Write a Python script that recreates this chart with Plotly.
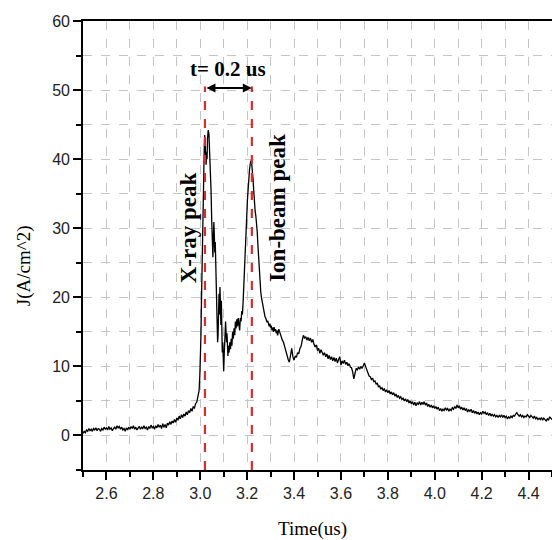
import plotly.graph_objects as go

# ---- data ----
time_us = [
    2.500, 2.505, 2.510, 2.515, 2.520, 2.525, 2.530, 2.535, 2.540, 2.545, 2.550, 2.555, 2.560, 2.565, 2.570, 2.575,
    2.580, 2.585, 2.590, 2.595, 2.600, 2.605, 2.610, 2.615, 2.620, 2.625, 2.630, 2.635, 2.640, 2.645, 2.650, 2.655,
    2.660, 2.665, 2.670, 2.675, 2.680, 2.685, 2.690, 2.695, 2.700, 2.705, 2.710, 2.715, 2.720, 2.725, 2.730, 2.735,
    2.740, 2.745, 2.750, 2.755, 2.760, 2.765, 2.770, 2.775, 2.780, 2.785, 2.790, 2.795, 2.800, 2.805, 2.810, 2.815,
    2.820, 2.825, 2.830, 2.835, 2.840, 2.845, 2.850, 2.855, 2.860, 2.865, 2.870, 2.875, 2.880, 2.885, 2.890, 2.895,
    2.900, 2.905, 2.910, 2.915, 2.920, 2.925, 2.930, 2.935, 2.940, 2.945, 2.950, 2.955, 2.960, 2.965, 2.970, 2.975,
    2.980, 2.985, 2.990, 2.995, 2.998, 3.001, 3.003, 3.005, 3.007, 3.009, 3.011, 3.013, 3.015, 3.017, 3.019, 3.021,
    3.023, 3.025, 3.027, 3.029, 3.031, 3.034, 3.037, 3.040, 3.043, 3.046, 3.049, 3.052, 3.054, 3.056, 3.058, 3.060,
    3.062, 3.064, 3.066, 3.068, 3.070, 3.072, 3.074, 3.076, 3.078, 3.080, 3.082, 3.084, 3.086, 3.088, 3.090, 3.092,
    3.094, 3.096, 3.098, 3.100, 3.102, 3.104, 3.106, 3.108, 3.110, 3.112, 3.114, 3.116, 3.118, 3.120, 3.123, 3.126,
    3.129, 3.132, 3.135, 3.138, 3.141, 3.144, 3.147, 3.150, 3.153, 3.156, 3.159, 3.162, 3.165, 3.168, 3.171, 3.174,
    3.177, 3.180, 3.183, 3.186, 3.189, 3.192, 3.195, 3.198, 3.201, 3.204, 3.207, 3.210, 3.213, 3.216, 3.219, 3.222,
    3.225, 3.228, 3.231, 3.234, 3.237, 3.240, 3.243, 3.246, 3.249, 3.252, 3.255, 3.258, 3.261, 3.264, 3.267, 3.270,
    3.273, 3.276, 3.279, 3.282, 3.285, 3.288, 3.291, 3.294, 3.297, 3.300, 3.303, 3.306, 3.309, 3.312, 3.315, 3.318,
    3.321, 3.324, 3.327, 3.330, 3.335, 3.340, 3.345, 3.350, 3.355, 3.360, 3.365, 3.370, 3.375, 3.380, 3.385, 3.390,
    3.395, 3.400, 3.405, 3.410, 3.415, 3.420, 3.425, 3.430, 3.435, 3.440, 3.445, 3.450, 3.455, 3.460, 3.465, 3.470,
    3.475, 3.480, 3.485, 3.490, 3.495, 3.500, 3.505, 3.510, 3.515, 3.520, 3.525, 3.530, 3.535, 3.540, 3.545, 3.550,
    3.555, 3.560, 3.565, 3.570, 3.575, 3.580, 3.585, 3.590, 3.595, 3.600, 3.605, 3.610, 3.615, 3.620, 3.625, 3.630,
    3.635, 3.640, 3.645, 3.650, 3.655, 3.660, 3.665, 3.670, 3.675, 3.680, 3.685, 3.690, 3.695, 3.700, 3.705, 3.710,
    3.715, 3.720, 3.725, 3.730, 3.735, 3.740, 3.745, 3.750, 3.755, 3.760, 3.765, 3.770, 3.775, 3.780, 3.785, 3.790,
    3.795, 3.800, 3.805, 3.810, 3.815, 3.820, 3.825, 3.830, 3.835, 3.840, 3.845, 3.850, 3.855, 3.860, 3.865, 3.870,
    3.875, 3.880, 3.885, 3.890, 3.895, 3.900, 3.905, 3.910, 3.915, 3.920, 3.925, 3.930, 3.935, 3.940, 3.945, 3.950,
    3.955, 3.960, 3.965, 3.970, 3.975, 3.980, 3.985, 3.990, 3.995, 4.000, 4.005, 4.010, 4.015, 4.020, 4.025, 4.030,
    4.035, 4.040, 4.045, 4.050, 4.055, 4.060, 4.065, 4.070, 4.075, 4.080, 4.085, 4.090, 4.095, 4.100, 4.105, 4.110,
    4.115, 4.120, 4.125, 4.130, 4.135, 4.140, 4.145, 4.150, 4.155, 4.160, 4.165, 4.170, 4.175, 4.180, 4.185, 4.190,
    4.195, 4.200, 4.205, 4.210, 4.215, 4.220, 4.225, 4.230, 4.235, 4.240, 4.245, 4.250, 4.255, 4.260, 4.265, 4.270,
    4.275, 4.280, 4.285, 4.290, 4.295, 4.300, 4.305, 4.310, 4.315, 4.320, 4.325, 4.330, 4.335, 4.340, 4.345, 4.350,
    4.355, 4.360, 4.365, 4.370, 4.375, 4.380, 4.385, 4.390, 4.395, 4.400, 4.405, 4.410, 4.415, 4.420, 4.425, 4.430,
    4.435, 4.440, 4.445, 4.450, 4.455, 4.460, 4.465, 4.470, 4.475, 4.480, 4.485, 4.490, 4.495, 4.500,
]
current_density = [
    0.3, 0.6, 0.4, 0.8, 0.6, 1.0, 0.7, 0.9, 0.6, 1.0, 0.8, 1.1, 0.7, 1.0, 0.9, 0.6,
    1.0, 0.8, 1.2, 0.9, 1.1, 0.8, 1.3, 0.9, 1.1, 0.7, 1.0, 1.2, 0.9, 1.4, 1.1, 1.3,
    0.9, 1.2, 0.8, 1.0, 0.6, 1.1, 0.8, 1.2, 0.9, 1.3, 1.0, 1.4, 0.9, 1.2, 0.8, 1.1,
    1.3, 0.9, 1.2, 1.0, 1.4, 1.0, 1.2, 0.8, 1.3, 1.0, 1.5, 1.1, 1.3, 0.9, 1.4, 1.1,
    1.6, 1.2, 1.5, 1.0, 1.7, 1.2, 1.6, 1.1, 1.8, 1.5, 2.0, 1.6, 2.1, 1.8, 2.3, 1.9,
    2.5, 2.2, 2.8, 2.4, 3.0, 2.6, 3.1, 2.8, 3.4, 3.0, 3.6, 3.3, 3.9, 3.5, 4.2, 3.9,
    4.6, 4.8, 5.5, 6.5, 8.5, 11.0, 14.5, 19.0, 24.0, 29.0, 34.0, 37.5, 38.8, 41.5, 43.5, 42.0,
    40.5, 39.2, 41.0, 40.0, 43.0, 44.2, 43.6, 41.5, 39.0, 35.5, 31.0, 27.0, 25.8, 28.5, 30.9, 29.0,
    26.5, 28.0, 24.0, 21.0, 18.0, 15.5, 13.5, 14.5, 17.0, 20.5, 17.5, 21.5, 19.0, 16.0, 19.5, 14.0,
    12.0, 13.5, 10.5, 9.3, 11.5, 13.0, 14.5, 16.5, 15.0, 13.5, 14.8, 12.5, 11.5, 13.0, 12.0, 13.5,
    12.5, 14.0, 13.0, 15.0, 14.0, 15.5, 14.5, 16.5, 15.5, 16.8, 15.8, 17.0, 16.0, 15.2, 17.0, 16.5,
    18.0, 17.5, 19.5, 21.5, 24.0, 26.5, 29.0, 31.5, 34.0, 36.0, 37.5, 38.5, 39.3, 39.8, 39.5, 38.6,
    37.2, 35.5, 33.5, 32.5, 31.8, 30.8, 29.5, 27.5, 25.5, 23.5, 22.0, 20.8, 20.0, 19.3, 18.8, 18.2,
    17.8, 17.2, 17.0, 16.8, 16.4, 16.6, 16.0, 15.8, 16.2, 15.6, 15.9, 15.2, 15.6, 15.0, 15.7, 15.1,
    15.4, 14.8, 15.2, 14.5, 15.4, 14.8, 14.5, 13.8, 13.5, 12.8, 12.3, 11.6, 11.0, 10.6, 11.8, 12.6,
    11.4, 10.9, 11.5, 11.3, 12.0, 11.8, 12.6, 12.9, 13.8, 14.5, 14.1, 14.3, 13.8, 14.2, 13.7, 14.1,
    13.5, 13.9, 13.2, 12.8, 13.1, 12.3, 12.6, 11.9, 12.4, 12.1, 11.6, 12.0, 11.4, 11.8, 11.1, 11.6,
    11.0, 11.4, 10.8, 11.3, 10.7, 11.2, 10.5, 11.0, 11.4, 10.2, 10.8, 10.4, 10.9, 10.3, 10.6, 10.1,
    10.4, 9.9, 9.8, 9.2, 8.2, 9.0, 9.7, 9.5, 9.9, 9.6, 10.0, 9.7, 10.1, 10.5, 10.0, 9.4,
    9.0, 8.6, 8.5, 8.1, 8.3, 7.8, 7.9, 7.4, 7.6, 7.0, 7.2, 6.7, 6.9, 6.5, 6.8, 6.3,
    6.6, 6.2, 6.5, 6.0, 6.3, 5.9, 6.2, 5.7, 6.0, 5.5, 5.8, 5.4, 5.6, 5.2, 5.4, 5.0,
    5.3, 4.9, 5.2, 4.7, 5.0, 4.6, 4.9, 4.4, 4.8, 4.3, 4.7, 4.5, 4.9, 4.4, 4.8, 4.5,
    4.9, 4.4, 4.7, 4.2, 4.5, 4.1, 4.4, 4.0, 4.3, 3.9, 4.2, 3.8, 4.1, 3.6, 3.9, 3.5,
    3.8, 3.6, 4.0, 3.7, 3.9, 3.5, 3.8, 3.6, 4.0, 3.8, 4.2, 3.9, 4.4, 4.0, 4.3, 3.8,
    4.1, 3.7, 4.0, 3.6, 3.9, 3.4, 3.7, 3.5, 3.8, 3.3, 3.6, 3.2, 3.5, 3.1, 3.4, 3.0,
    3.3, 3.1, 3.5, 3.2, 3.4, 3.0, 3.3, 2.9, 3.2, 2.8, 3.1, 2.8, 3.0, 2.7, 2.9, 2.6,
    2.9, 2.7, 3.0, 2.6, 2.9, 2.6, 2.8, 2.4, 2.7, 2.5, 2.8, 2.6, 2.9, 2.8, 3.1, 3.3,
    3.0, 2.8, 3.0, 2.7, 2.9, 2.6, 2.8, 2.7, 3.0, 2.8, 2.6, 2.9, 2.7, 2.5, 2.8, 2.4,
    2.6, 2.3, 2.5, 2.3, 2.6, 2.2, 2.5, 2.3, 2.1, 2.4, 2.2, 2.7, 2.5, 2.3,
]

peak_times = [3.02, 3.22]          # x-ray peak, ion-beam peak
marker_top = 50.5
arrow_level = 50.3
delay_label = "t= 0.2 us"
xray_label = "X-ray peak"
ion_label = "Ion-beam peak"
x_title = "Time(us)"
y_title = "J(A/cm^2)"

SERIF = "Liberation Serif"
SANS = "Liberation Sans"
GRID = "#c4c4c4"

fig = go.Figure()
fig.add_trace(go.Scatter(x=time_us, y=current_density, mode="lines",
                         line=dict(color="black", width=1.3), showlegend=False,
                         hoverinfo="skip"))

for t in peak_times:
    fig.add_shape(type="line", x0=t, x1=t, y0=-5, y1=marker_top, xref="x", yref="y",
                  line=dict(color="#d32f2f", width=2.2, dash="dash"))

# double arrow between peaks
fig.add_annotation(x=peak_times[1], y=arrow_level, ax=peak_times[0], ay=arrow_level,
                   xref="x", yref="y", axref="x", ayref="y", text="",
                   showarrow=True, arrowhead=2, arrowside="end+start",
                   arrowsize=1.0, arrowwidth=1.8, arrowcolor="black")
fig.add_annotation(x=(peak_times[0] + peak_times[1]) / 2, y=53.0, xref="x", yref="y",
                   text="<b>" + delay_label + "</b>", showarrow=False,
                   font=dict(family=SERIF, size=21, color="black"))
fig.add_annotation(x=2.951, y=30.1, xref="x", yref="y", text="<b>" + xray_label + "</b>",
                   textangle=-90, showarrow=False,
                   font=dict(family=SERIF, size=23, color="black"))
fig.add_annotation(x=3.33, y=32.9, xref="x", yref="y", text="<b>" + ion_label + "</b>",
                   textangle=-90, showarrow=False,
                   font=dict(family=SERIF, size=23, color="black"))

# axis titles
fig.add_annotation(x=0.49, y=-0.131, xref="paper", yref="paper", yanchor="middle",
                   text=x_title, showarrow=False,
                   font=dict(family=SERIF, size=19, color="black"))
fig.add_annotation(x=-0.126, y=0.456, xref="paper", yref="paper", xanchor="center",
                   text=y_title, textangle=-90, showarrow=False,
                   font=dict(family=SERIF, size=19, color="black"))

fig.update_xaxes(range=[2.5, 4.5], tick0=2.6, dtick=0.2, tickformat=".1f",
                 showline=True, linecolor="black", linewidth=1.6, mirror=True,
                 ticks="outside", ticklen=8, tickwidth=1.5, tickcolor="black",
                 showgrid=True, gridcolor=GRID, griddash="dash", gridwidth=1,
                 zeroline=False,
                 tickfont=dict(family=SANS, size=16, color="#222"),
                 minor=dict(tick0=2.5, dtick=0.1, ticks="outside", ticklen=5,
                            tickwidth=1.5, tickcolor="black", showgrid=True,
                            gridcolor=GRID, griddash="dash", gridwidth=1))
fig.update_yaxes(range=[-5, 60], tick0=0, dtick=10,
                 showline=True, linecolor="black", linewidth=1.6, mirror=False,
                 ticks="outside", ticklen=8, tickwidth=1.5, tickcolor="black",
                 showgrid=True, gridcolor=GRID, griddash="dash", gridwidth=1,
                 zeroline=False,
                 tickfont=dict(family=SANS, size=16, color="#222"),
                 minor=dict(tick0=-5, dtick=5, ticks="outside", ticklen=5,
                            tickwidth=1.5, tickcolor="black", showgrid=True,
                            gridcolor=GRID, griddash="dash", gridwidth=1))

fig.update_layout(width=552, height=540, margin=dict(l=83, r=0, t=21, b=70),
                  plot_bgcolor="white", paper_bgcolor="white")

fig.write_html("out.html", config={"displayModeBar": False},
               post_script="document.body.style.margin='0';document.body.style.overflow='hidden';")
